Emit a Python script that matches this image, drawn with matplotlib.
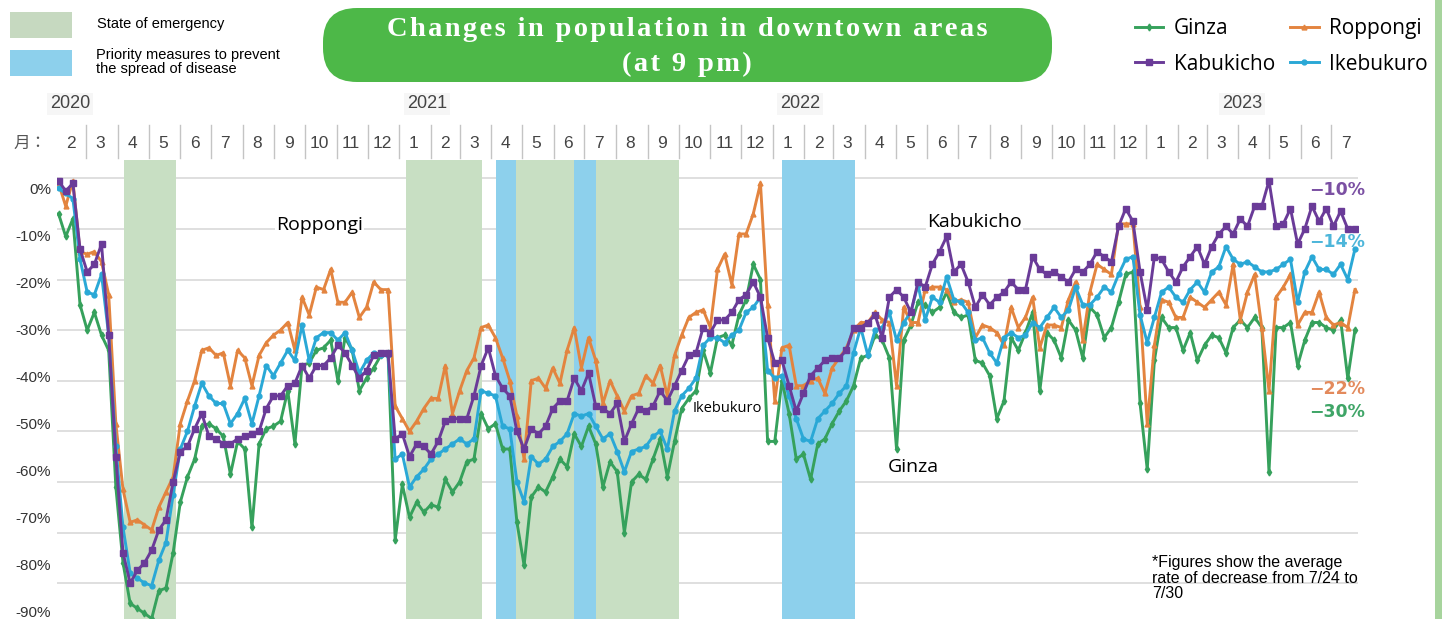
import pandas as pd
import matplotlib.pyplot as plt
from matplotlib.patches import FancyBboxPatch, Rectangle

W, H = 1442, 619

# weekly points, week starting Monday
weeks = pd.date_range('2020-02-03', periods=182, freq='7D')

ginza = [-7, -11.5, -8, -25, -30, -26.5, -31, -34, -61, -76,
         -84, -85, -86, -87, -81.5, -81, -74, -64, -59, -55.5,
         -49, -48.5, -49.5, -51, -58.5, -52, -53.5, -69, -52.5, -49.5,
         -49, -48, -42, -52.5, -37, -36.5, -34, -33.5, -32, -40,
         -31.5, -34, -42, -39.5, -37.5, -35, -34.5, -71.5, -60.5, -67,
         -64, -66, -64.5, -65, -59.5, -62, -60, -56, -55.5, -46.5,
         -49.5, -48.5, -53.5, -53.5, -68, -76.5, -63, -61, -62, -59,
         -55.5, -57, -50.5, -53, -49, -52.5, -61, -56, -58, -70,
         -60, -58.5, -59.5, -55.5, -51.5, -59, -52, -45.5, -43.5, -42,
         -34, -38.5, -31.5, -31, -33, -27, -24, -17, -20, -52,
         -52, -40, -46.5, -55.5, -54.5, -59.5, -52.5, -51.5, -48.5, -46,
         -44, -41, -35.5, -35, -31, -32, -35.5, -53.5, -32, -29,
         -24.5, -25, -26.5, -25.5, -22.5, -26.5, -27.5, -27, -36, -36.5,
         -39, -47.5, -44, -31.5, -34, -30.5, -26.5, -42, -30.5, -32,
         -35.5, -28, -30, -35.5, -25.5, -27, -31.5, -29.5, -24.5, -19,
         -18.5, -44.5, -57.5, -36, -27.5, -29.5, -29.5, -34, -30.5, -36,
         -33, -31, -31.5, -34.5, -29.5, -28, -29.5, -27.5, -29.5, -58,
         -29.5, -29.5, -28.5, -37, -32, -28.5, -28.5, -29.5, -30, -28,
         -39.5, -30]

roppongi = [-1, -5.5, -0.5, -14.5, -15, -14.5, -16.5, -23, -48.5, -61.5,
            -68, -67.5, -68.5, -69.5, -65, -62, -59, -48.5, -44, -40,
            -34, -33.5, -35, -34.5, -41, -34, -35.5, -41, -35, -32.5,
            -31, -30, -28.5, -34, -23.5, -27, -21.5, -22, -18, -24.5,
            -24.5, -22.5, -27.5, -25.5, -20.5, -22, -22, -45, -47.5, -50,
            -48, -45.5, -43.5, -43.5, -37, -46.5, -42, -38, -35.5, -29.5,
            -29, -31.5, -35.5, -40, -47, -55.5, -40, -39.5, -41.5, -37.5,
            -40.5, -34, -29.5, -37.5, -31.5, -36, -44.5, -40, -43, -46,
            -43, -42.5, -39, -40.5, -37, -43, -35, -31, -27.5, -26.5,
            -26, -29.5, -18, -15, -21, -11, -11, -7, -1, -25,
            -44, -33.5, -33, -41, -41, -40, -39.5, -42.5, -37.5, -35.5,
            -33.5, -30, -28.5, -28.5, -26.5, -28, -28.5, -41, -25.5, -28.5,
            -28.5, -22, -21.5, -21.5, -22, -24.5, -24, -24.5, -31.5, -29,
            -29.5, -30.5, -33, -25.5, -29.5, -27.5, -23.5, -33.5, -29, -29,
            -29.5, -24, -20.5, -32, -22.5, -17, -18, -19, -9, -9,
            -9, -25.5, -48.5, -33, -24, -24.5, -27.5, -27.5, -23.5, -24.5,
            -25.5, -24, -22.5, -25, -17, -28, -22.5, -19, -29.5, -42,
            -23.5, -21.5, -19, -29, -26.5, -26.5, -22.5, -27.5, -29, -28.5,
            -29.5, -22]

kabukicho = [-0.5, -2.5, -1, -14, -18.5, -17, -13, -31, -55, -74,
             -80, -77.5, -76, -73.5, -69.5, -67.5, -60, -54, -53, -49.5,
             -46.5, -51, -51.5, -52.5, -52.5, -51.5, -51, -50.5, -50, -45.5,
             -43, -43, -41, -40.5, -37, -39.5, -37, -37, -35.5, -33,
             -34.5, -37, -39.5, -38, -35, -34.5, -34.5, -51.5, -50.5, -55,
             -52.5, -53, -54.5, -52, -48, -47.5, -47.5, -47.5, -43, -37,
             -33.5, -39, -41.5, -43, -50, -53.5, -49.5, -50.5, -49, -45.5,
             -44, -44, -39.5, -42, -38.5, -45, -45.5, -46.5, -44.5, -52,
             -48.5, -45.5, -46, -45, -42, -44, -41, -38, -35, -34.5,
             -29.5, -30.5, -28, -28, -26.5, -24, -23, -20.5, -23.5, -31.5,
             -36.5, -36, -41, -46, -42.5, -39, -37.5, -36, -35.5, -35.5,
             -34, -29.5, -29.5, -28.5, -27, -31.5, -23.5, -22, -23.5, -26.5,
             -20.5, -21.5, -17, -14.5, -11.5, -18.5, -17, -20.5, -25.5, -23,
             -25, -23.5, -22.5, -20.5, -22, -22, -15.5, -18, -19, -18.5,
             -19.5, -20.5, -18, -18.5, -17, -14.5, -15.5, -16.5, -9.5, -6,
             -8.5, -18.5, -26, -15.5, -16, -18.5, -20.5, -17.5, -15.5, -13.5,
             -17, -13.5, -11, -9.5, -11, -8, -9.5, -5.5, -5.5, -0.5,
             -9.5, -9, -6, -13, -10, -5.5, -8.5, -6, -9.5, -6.5,
             -10, -10]

ikebukuro = [-2, -3, -4, -16, -22.5, -23, -19, -31, -53, -69,
             -78, -79, -80, -80.5, -75.5, -72, -62.5, -53.5, -50, -45,
             -40.5, -43, -44.5, -44.5, -48.5, -46.5, -43.5, -48.5, -43, -37,
             -39, -36.5, -34, -36, -29, -36, -31.5, -30.5, -30.5, -32,
             -30.5, -34, -38.5, -36, -34.5, -35, -35, -55.5, -54.5, -61,
             -59, -57.5, -55.5, -54.5, -53.5, -52.5, -51.5, -52.5, -51.5, -42,
             -42.5, -43, -49, -49.5, -60, -64, -55, -56.5, -55.5, -53,
             -52, -50.5, -46.5, -47, -46.5, -49, -51.5, -50.5, -54, -58,
             -54, -53.5, -53, -51, -50, -53.5, -46, -43, -41.5, -39.5,
             -33, -31.5, -31.5, -32.5, -31, -30, -26.5, -25.5, -23.5, -38,
             -39.5, -39, -43, -47.5, -51.5, -52, -47.5, -46, -44.5, -42.5,
             -41, -34.5, -29.5, -35, -30, -29.5, -26.5, -32, -28.5, -26.5,
             -21, -28, -23.5, -24.5, -19.5, -24, -24.5, -26.5, -32, -31.5,
             -34.5, -36.5, -31.5, -30.5, -31.5, -31, -28.5, -29.5, -27.5, -25.5,
             -27.5, -26, -21.5, -25, -25, -23.5, -21.5, -22.5, -19, -16,
             -15.5, -27, -32.5, -27.5, -22.5, -21.5, -23.5, -24.5, -22, -20.5,
             -22.5, -18.5, -17.5, -13.5, -16, -17, -16.5, -17.5, -18.5, -18.5,
             -18, -17, -16, -24.5, -18.5, -15.5, -18, -18, -19, -17,
             -20, -14]

emergency = [('2020-04-07', '2020-05-28'), ('2021-01-08', '2021-03-23'),
             ('2021-04-25', '2021-06-21'), ('2021-07-12', '2021-10-01')]
priority = [('2021-04-06', '2021-04-25'), ('2021-06-21', '2021-07-12'),
            ('2022-01-10', '2022-03-22')]

months = pd.date_range('2020-02-01', '2023-07-01', freq='MS')
month_labels = [str(m.month) for m in months]
years = ['2020', '2021', '2022', '2023']
year_px = [70, 427, 800, 1242]
pct_ticks = list(range(0, -100, -10))
end_labels = ['−10%', '−14%', '−22%', '−30%']
end_label_y = [-2.3, -12.6, -41.6, -46.2]

c_ginza = '#36a15c'
c_ropp = '#e3843f'
c_kabu = '#6a3b98'
c_ikeb = '#2aa8d6'
c_soe = '#c8dfc3'
c_pri = '#8dd0ec'

fig = plt.figure(figsize=(W / 100, H / 100), dpi=100)

# pixel-space layer for the header decorations
bg = fig.add_axes([0, 0, 1, 1], zorder=0)
bg.set_xlim(0, W)
bg.set_ylim(H, 0)
bg.axis('off')

ax_left, ax_right, ax_top = 56.5, 1358, 160
ax = fig.add_axes([ax_left / W, 0, (ax_right - ax_left) / W, (H - ax_top) / H], zorder=1)
ax.set_xlim(pd.Timestamp('2020-02-01'), pd.Timestamp('2023-07-27'))
ax.set_ylim(-(H - 178.3) / 5.06, (178.3 - ax_top) / 5.06)
ax.set_yticks(pct_ticks[:-1])
ax.grid(axis='y', color='#d9d9d9', lw=1.2, zorder=0)
ax.set_axisbelow(True)
for s in ax.spines.values():
    s.set_visible(False)

for a, b in emergency:
    ax.axvspan(pd.Timestamp(a), pd.Timestamp(b), color=c_soe, lw=0, zorder=1)
for a, b in priority:
    ax.axvspan(pd.Timestamp(a), pd.Timestamp(b), color=c_pri, lw=0, zorder=1)

l_g, = ax.plot(weeks, ginza, color=c_ginza, lw=2.1, marker='d', ms=3.5, zorder=3)
l_r, = ax.plot(weeks, roppongi, color=c_ropp, lw=2.1, marker='^', ms=3.5, zorder=3)
l_i, = ax.plot(weeks, ikebukuro, color=c_ikeb, lw=2.1, marker='o', ms=3.5, zorder=3)
l_k, = ax.plot(weeks, kabukicho, color=c_kabu, lw=2.1, marker='s', ms=4.5, zorder=4)

# percent labels down the left edge, on their own scale
ax2 = ax.twinx()
ax2.set_ylim(-(H - 188.5) / 4.7, (188.5 - ax_top) / 4.7)
ax2.set_yticks(pct_ticks)
ax2.set_yticklabels([f'{v}%' for v in pct_ticks], family='Liberation Sans')
ax2.tick_params(axis='y', which='both', left=False, right=False, length=0,
                labelleft=True, labelright=False, pad=4, labelsize=11, labelcolor='#333333')
ax2.tick_params(axis='x', bottom=False, labelbottom=False)
for s in ax2.spines.values():
    s.set_visible(False)
# twinx turns the left ticks back on, so hide them here
ax.tick_params(axis='both', which='both', left=False, right=False, bottom=False,
               labelleft=False, labelbottom=False)

# month row with separators
def ay(py):
    return (H - py) / (H - ax_top)

xt = ax.get_xaxis_transform()
for m in months[1:]:
    ax.plot([m, m], [ay(125), ay(158)], transform=xt, color='#c4c4c4', lw=1, clip_on=False)
for m, lab in zip(months, month_labels):
    ax.text(m + pd.Timedelta(days=14), ay(143), lab, transform=xt, ha='center', va='center',
            fontsize=12.5, color='#444444', family='Liberation Sans')
bg.text(30, 143, '月：', ha='center', va='center', fontsize=12, color='#555555',
        family=['Noto Sans CJK JP', 'DejaVu Sans'])
for yr, px in zip(years, year_px):
    bg.text(px, 104, yr, ha='center', va='center', fontsize=13, color='#444444',
            family='Liberation Sans', bbox=dict(fc='#f6f6f6', ec='none', pad=2))

# title, letter-spaced
title_1 = 'Changes in population in downtown areas'
title_2 = '(at 9 pm)'
bg.add_patch(FancyBboxPatch((323, 8), 729, 74, boxstyle='round,pad=0,rounding_size=34',
                            fc='#4db848', ec='none'))
for txt, py in [(title_1, 30), (title_2, 64)]:
    bg.text(687, py, '\u200a'.join(txt), ha='center', va='center', color='white',
            fontsize=20.5, fontweight='bold', family=['Liberation Serif', 'DejaVu Serif'])

# shading key
bg.add_patch(Rectangle((10, 12), 62, 26, fc='#c6d9c0', ec='none'))
bg.add_patch(Rectangle((10, 50), 62, 26, fc=c_pri, ec='none'))
bg.text(97, 24, 'State of emergency', va='center', fontsize=10.5, family='Liberation Sans')
bg.text(96, 62, 'Priority measures to prevent\nthe spread of disease', va='center',
        fontsize=10.5, family='Liberation Sans', linespacing=0.95)

# right edge strip
bg.add_patch(Rectangle((1435, 0), 7, H, fc='#a7d49d', ec='none'))

fig.legend([l_g, l_k, l_r, l_i], ['Ginza', 'Kabukicho', 'Roppongi', 'Ikebukuro'],
           ncol=2, loc='upper left', bbox_to_anchor=(1135 / W, 1 - 18 / H),
           frameon=False, prop={'family': 'Open Sans', 'size': 15},
           handlelength=1.35, handletextpad=0.5, columnspacing=0.75,
           labelspacing=0.7, borderpad=0, borderaxespad=0)

# area names beside the lines
box = dict(fc='white', ec='none', pad=1)
ax.text(pd.Timestamp('2020-10-15'), -9.2, 'Roppongi', ha='center', va='center',
        fontsize=14, family='Open Sans', bbox=box, zorder=5)
ax.text(pd.Timestamp('2022-07-17'), -8.6, 'Kabukicho', ha='center', va='center',
        fontsize=14, family='Open Sans', bbox=box, zorder=5)
ax.text(pd.Timestamp('2021-11-18'), -45.4, 'Ikebukuro', ha='center', va='center',
        fontsize=10.5, family='Open Sans', bbox=box, zorder=5)
ax.text(pd.Timestamp('2022-05-18'), -57, 'Ginza', ha='center', va='center',
        fontsize=14, family='Open Sans', bbox=box, zorder=5)

for lab, y, c in zip(end_labels, end_label_y, ['#7b50a3', '#4db6da', '#e38a5c', '#3fa567']):
    ax.text(pd.Timestamp('2023-07-07'), y, lab, ha='center', va='center', fontsize=12.5,
            fontweight='bold', color=c, family='DejaVu Sans', zorder=5)

fig.text(1152 / W, 1 - 555 / H, '*Figures show the average\nrate of decrease from 7/24 to\n7/30',
         va='top', fontsize=11.5, family='Liberation Sans', linespacing=1.05)

fig.savefig('out.png', dpi=100)
